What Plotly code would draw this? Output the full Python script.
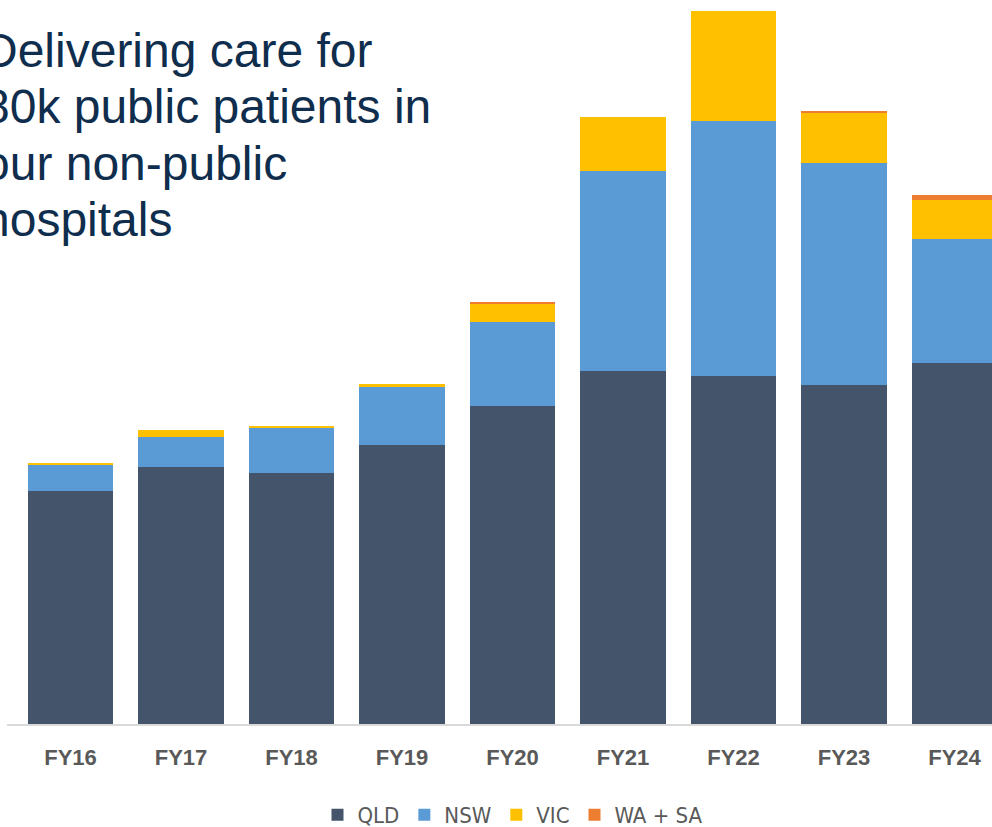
import plotly.graph_objects as go

years = ["FY16", "FY17", "FY18", "FY19", "FY20", "FY21", "FY22", "FY23", "FY24"]
qld = [4.66, 5.14, 5.02, 5.58, 6.36, 7.06, 6.97, 6.79, 7.23]
nsw = [0.52, 0.60, 0.90, 1.17, 1.69, 4.00, 5.09, 4.44, 2.47]
vic = [0.04, 0.14, 0.05, 0.05, 0.35, 1.09, 2.21, 0.99, 0.79]
wasa = [0.00, 0.00, 0.00, 0.00, 0.05, 0.00, 0.00, 0.05, 0.09]

series = [("QLD", qld, "#44546A"), ("NSW", nsw, "#5B9BD5"),
          ("VIC", vic, "#FFC000"), ("WA + SA", wasa, "#ED7D31")]

title_lines = ["Delivering care for", "80k public patients in", "our non-public", "hospitals"]

W, H = 992, 827
ML, MR, MT, MB = 7, 0, 0, 103
PW, PH = W - ML - MR, H - MT - MB
PX_PER_UNIT = 50.0

fig = go.Figure()
for name, vals, col in series:
    fig.add_trace(go.Bar(x=years, y=vals, name=name, marker=dict(color=col, line=dict(width=0))))

step = 110.5
c0 = 70.5
xl = -(c0 - ML) / step
xr = (W - ML - (c0 - ML)) / step

legend_font = "Liberation Sans Narrow, DejaVu Sans Condensed, sans-serif"
tick_font = "Liberation Sans, Arial, sans-serif"

fig.update_layout(
    width=W, height=H,
    margin=dict(l=ML, r=MR, t=MT, b=MB, pad=0, autoexpand=False),
    paper_bgcolor="white", plot_bgcolor="white",
    barmode="stack", bargap=0.23,
    showlegend=True,
    legend=dict(orientation="h", x=(521 - 8 - ML) / PW, xanchor="center", y=-91 / PH, yanchor="middle",
                font=dict(family=legend_font, size=22, color="#595959"),
                itemwidth=30, traceorder="normal", bgcolor="rgba(0,0,0,0)"),
    xaxis=dict(range=[xl, xr], showline=True, linecolor="#D9D9D9", linewidth=1.5,
               ticks="outside", ticklen=13, tickcolor="rgba(0,0,0,0)",
               tickfont=dict(family=tick_font, size=22, color="#595959", weight="bold"),
               showgrid=False, zeroline=False, fixedrange=True, automargin=False),
    yaxis=dict(range=[0, PH / PX_PER_UNIT], visible=False, showgrid=False, zeroline=False,
               automargin=False),
)

baselines = [67.5, 124.0, 180.5, 237.0]
for line, bl in zip(title_lines, baselines):
    ycenter = bl - 0.36 * 48
    fig.add_annotation(text=line, xref="paper", yref="paper",
                       x=(-19 - ML) / PW, y=(PH - (ycenter - MT)) / PH,
                       xanchor="left", yanchor="middle", showarrow=False,
                       font=dict(family="Liberation Sans, Arial, sans-serif", size=48, color="#0F2D4D"))

fig.write_html("out.html", config={"displayModeBar": False},
               post_script="document.body.style.margin='0';document.body.style.overflow='hidden';")
